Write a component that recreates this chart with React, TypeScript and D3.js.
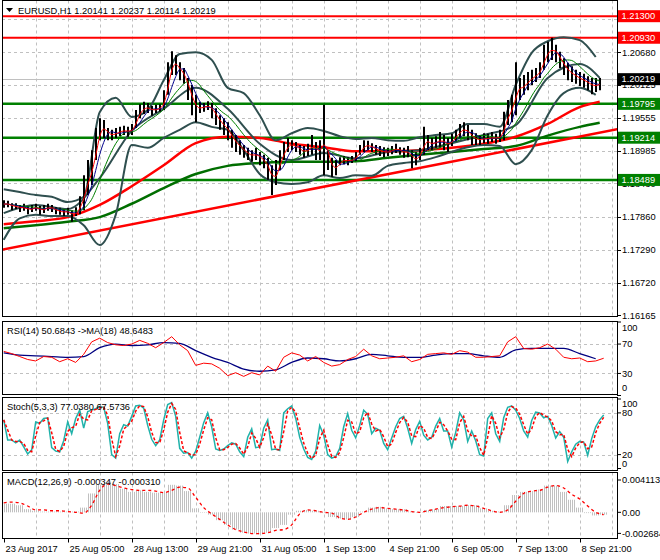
import React from "react";
import * as d3 from "d3";

// ---------- DATA (H1 EURUSD, sampled every 2 hours) ----------
const highs = [
  1.1814, 1.1813, 1.1809, 1.1809, 1.1806, 1.1808, 1.1804, 1.1806, 1.1808, 1.1804,
  1.1806, 1.1808, 1.1806, 1.1802, 1.1801, 1.1799, 1.1801, 1.1797, 1.1802, 1.1821,
  1.1857, 1.1883, 1.19, 1.1938, 1.1955, 1.1952, 1.1938, 1.1935, 1.1938, 1.194,
  1.1942, 1.194, 1.1945, 1.1969, 1.1979, 1.1983, 1.1981, 1.1976, 1.1978, 1.1979,
  1.2003, 1.2051, 1.207, 1.2063, 1.2051, 1.2041, 1.2024, 1.2012, 1.1995, 1.1983,
  1.1981, 1.1984, 1.1981, 1.1972, 1.196, 1.1955, 1.1948, 1.1935, 1.1926, 1.1917,
  1.1909, 1.1904, 1.19, 1.1904, 1.1897, 1.1892, 1.1887, 1.1874, 1.1883, 1.19,
  1.1914, 1.1921, 1.1917, 1.1914, 1.1909, 1.1907, 1.1911, 1.1926, 1.1914, 1.1917,
  1.1978, 1.19, 1.1887, 1.1883, 1.1888, 1.189, 1.1888, 1.189, 1.1897, 1.1909,
  1.1917, 1.1916, 1.1912, 1.1909, 1.1907, 1.1905, 1.1904, 1.1907, 1.1911, 1.1905,
  1.1904, 1.1907, 1.19, 1.1897, 1.1904, 1.194, 1.1926, 1.1921, 1.1924, 1.1931,
  1.1926, 1.1921, 1.1928, 1.1935, 1.1945, 1.1948, 1.1943, 1.1935, 1.1929, 1.1926,
  1.1929, 1.1928, 1.1931, 1.1928, 1.1935, 1.1966, 1.1986, 1.1995, 1.2051, 1.2024,
  1.2029, 1.2034, 1.2038, 1.2041, 1.2051, 1.2081, 1.2086, 1.2093, 1.2081, 1.2069,
  1.2058, 1.205, 1.2044, 1.2038, 1.2034, 1.2031, 1.2027, 1.2024, 1.2024, 1.2024,
];
const lows = [
  1.1801, 1.1802, 1.1797, 1.1799, 1.1794, 1.1796, 1.179, 1.1794, 1.1796, 1.1789,
  1.1792, 1.1796, 1.1794, 1.179, 1.1789, 1.1787, 1.1789, 1.1777, 1.1787, 1.179,
  1.1797, 1.1823, 1.184, 1.1883, 1.1917, 1.1921, 1.1917, 1.1917, 1.1921, 1.1924,
  1.1926, 1.1923, 1.1926, 1.1938, 1.1955, 1.1962, 1.1964, 1.1959, 1.1964, 1.1966,
  1.1969, 1.1995, 1.2029, 1.2029, 1.202, 1.2014, 1.1986, 1.196, 1.1948, 1.1964,
  1.1966, 1.1969, 1.1955, 1.1943, 1.1935, 1.1926, 1.1917, 1.1904, 1.1897, 1.1892,
  1.1887, 1.1883, 1.188, 1.1883, 1.1874, 1.1869, 1.1849, 1.1823, 1.184, 1.1866,
  1.1883, 1.1897, 1.19, 1.1897, 1.1892, 1.1887, 1.189, 1.1892, 1.1883, 1.1883,
  1.1857, 1.1866, 1.1854, 1.1857, 1.1874, 1.1876, 1.1874, 1.1878, 1.188, 1.1892,
  1.1897, 1.19, 1.1897, 1.1892, 1.189, 1.1888, 1.189, 1.1893, 1.1895, 1.1892,
  1.1887, 1.1888, 1.1869, 1.1874, 1.1883, 1.1892, 1.19, 1.19, 1.1904, 1.1904,
  1.19, 1.1897, 1.1907, 1.1914, 1.1921, 1.1924, 1.1917, 1.1909, 1.1909, 1.1909,
  1.1912, 1.1911, 1.1914, 1.1911, 1.1914, 1.1917, 1.1943, 1.1948, 1.196, 1.1986,
  1.1995, 1.2003, 1.2012, 1.2017, 1.2024, 1.2038, 1.2051, 1.2055, 1.2051, 1.2041,
  1.2029, 1.202, 1.2017, 1.2014, 1.201, 1.2007, 1.2003, 1.1996, 1.2, 1.2003,
];

// Long moving averages, one value every 8 bars (last one at the final bar)
const maBars = [0, 8, 16, 24, 32, 40, 48, 56, 64, 72, 80, 88, 96, 104, 112, 120, 128, 136, 144, 149];
const ma100 = [1.1773, 1.1778, 1.1785, 1.1806, 1.1838, 1.1874, 1.1912, 1.1923, 1.1921, 1.1911,
  1.1905, 1.1898, 1.1898, 1.19, 1.1904, 1.1911, 1.1923, 1.1945, 1.1974, 1.1983];
const ma200 = [1.1766, 1.1771, 1.1777, 1.1785, 1.1808, 1.1835, 1.1859, 1.1873, 1.1878, 1.188,
  1.188, 1.1881, 1.1887, 1.1892, 1.1897, 1.1902, 1.1907, 1.1925, 1.194, 1.1947];
const bbMiddle = [1.1792, 1.1806, 1.1799, 1.1852, 1.1933, 1.1971, 1.2007, 1.1971, 1.1911, 1.1883,
  1.1895, 1.1886, 1.1897, 1.19, 1.1912, 1.1926, 1.1943, 1.2024, 1.2048, 1.2024];

// Bollinger bands, one value every 4 bars
const bbUpper = [1.1833, 1.1828, 1.1823, 1.182, 1.1811, 1.182, 1.1965, 1.199, 1.1957, 1.1969,
  1.202, 1.2065, 1.2068, 1.2055, 1.2007, 1.1998, 1.196, 1.1917, 1.1929, 1.1938,
  1.1933, 1.1924, 1.1919, 1.1921, 1.1917, 1.1916, 1.1922, 1.1926, 1.1929, 1.1945,
  1.1945, 1.194, 1.2012, 1.2067, 1.2087, 1.2094, 1.2089, 1.206];
const bbLower = [1.1746, 1.1783, 1.1789, 1.1787, 1.1787, 1.1771, 1.1737, 1.1789, 1.1909, 1.1904,
  1.1921, 1.1935, 1.1948, 1.194, 1.1935, 1.19, 1.1859, 1.1845, 1.1842, 1.1845,
  1.1857, 1.1852, 1.1857, 1.1856, 1.1873, 1.1878, 1.1881, 1.1888, 1.1897, 1.1905,
  1.1909, 1.1907, 1.1876, 1.19, 1.196, 1.1998, 1.2007, 1.1995];

const trendBars = [-0.5, 153.4];
const trendPrices = [1.1729, 1.1936];

const resistanceLevels = [1.213, 1.2093];
const supportLevels = [1.19795, 1.19214, 1.18489];
const lastPrice = 1.20219;
const priceTicks = [1.2125, 1.2068, 1.20125, 1.19555, 1.18985, 1.1843, 1.1786, 1.1729, 1.1672, 1.16165];

const timeLabels = ["23 Aug 2017", "25 Aug 05:00", "28 Aug 13:00", "29 Aug 21:00", "31 Aug 05:00",
  "1 Sep 13:00", "4 Sep 21:00", "6 Sep 05:00", "7 Sep 13:00", "8 Sep 21:00"];

// RSI(14), one value every 2 bars; its MA(18) every 4 bars
const rsi = [60, 57, 53, 49, 47, 53, 52, 46, 50, 45, 56, 73, 78, 72, 69, 68, 70, 75, 71, 65,
  72, 80, 69, 61, 41, 44, 43, 37, 27, 31, 26, 31, 28, 40, 33, 52, 58, 55, 47, 53,
  45, 40, 42, 49, 53, 63, 54, 50, 51, 52, 54, 46, 49, 56, 57, 58, 56, 61, 59, 52,
  52, 53, 54, 73, 80, 64, 63, 65, 70, 63, 52, 50, 51, 46, 47, 50.7];
const rsiMa = [58, 55, 54, 53, 52, 53, 65, 70, 68, 69, 72, 71, 61, 52, 45, 36, 33, 35, 45, 51,
  50, 47, 50, 56, 54, 52, 52, 55, 57, 57, 54, 52, 62, 64, 64, 64, 57, 50];
const rsiTicks = [100, 70, 30, 0];

// Stochastic %K, one value per bar
const stochMain = [70, 41, 41, 37, 41, 31, 21, 27, 67, 65, 72, 73, 30, 25, 24, 40, 67, 50, 72, 84,
  58, 82, 84, 86, 89, 88, 65, 20, 15, 50, 63, 61, 75, 90, 91, 87, 62, 42, 33, 41,
  70, 92, 95, 75, 29, 22, 23, 15, 25, 45, 66, 80, 60, 28, 26, 28, 33, 37, 35, 24,
  17, 45, 57, 30, 31, 58, 70, 27, 28, 26, 80, 86, 90, 72, 45, 28, 16, 13, 25, 62,
  48, 20, 15, 17, 29, 60, 79, 55, 44, 62, 84, 78, 50, 58, 55, 36, 27, 44, 60, 72,
  75, 58, 36, 56, 68, 48, 41, 45, 61, 72, 54, 54, 31, 52, 80, 70, 39, 54, 40, 20,
  18, 72, 80, 50, 39, 73, 88, 90, 84, 72, 54, 45, 69, 81, 80, 73, 75, 62, 44, 53,
  45, 10, 24, 35, 39, 38, 19, 43, 60, 70, 77];
const stochTicks = [100, 80, 20, 0];

// MACD(12,26,9), one value every 2 bars
const macdHist = [0.0011, 0.0011, 0.0009, 0.0004, 0.0002, 0.0001, 0.0001, 0.0001, 0.0001, 0.0001,
  0.0006, 0.0024, 0.0035, 0.0039, 0.0036, 0.003, 0.0026, 0.0028, 0.0026, 0.0025,
  0.0025, 0.0035, 0.0034, 0.0027, 0.0005, 0.0, -0.0003, -0.001, -0.0016, -0.0022,
  -0.0026, -0.0027, -0.0028, -0.0026, -0.002, -0.0016, -0.0003, 0.0002, 0.0003, 0.0002,
  -0.0001, -0.0006, -0.0008, -0.0009, -0.0006, 0.0001, 0.0006, 0.0007, 0.0005, 0.0004,
  0.0004, 0.0001, 0.0, 0.0003, 0.0004, 0.0008, 0.0008, 0.0008, 0.0009, 0.0009,
  0.0005, 0.0002, 0.0001, 0.0009, 0.0022, 0.0026, 0.0027, 0.0029, 0.0034, 0.0034,
  0.0026, 0.0016, 0.0006, -0.0001, -0.0004, -0.0003];
const macdSignal = [0.0012, 0.0013, 0.0012, 0.0008, 0.0003, 0.0003, 0.0002, 0.0002, 0.0001, 0.0,
  -0.0001, 0.0009, 0.0028, 0.0036, 0.0034, 0.0031, 0.0029, 0.0028, 0.0028, 0.0027,
  0.0025, 0.0028, 0.0032, 0.0031, 0.0019, 0.0006, -0.0002, -0.0009, -0.0016, -0.0022,
  -0.0025, -0.0027, -0.0027, -0.0026, -0.0023, -0.0022, -0.0016, -0.0002, 0.0003, 0.0002,
  0.0, -0.0001, -0.0007, -0.0009, -0.0006, 0.0, 0.0004, 0.0006, 0.0005, 0.0004,
  0.0003, 0.0001, 0.0, 0.0002, 0.0004, 0.0006, 0.0007, 0.0008, 0.0009, 0.0008,
  0.0005, 0.0002, 0.0, 0.0003, 0.0014, 0.0024, 0.0027, 0.0028, 0.0032, 0.0034,
  0.0031, 0.0023, 0.0017, 0.0008, 0.0, -0.0003];
const macdTicks = [0.004113, 0, -0.002684];

// ---------- LAYOUT ----------
const FONT = "'Liberation Sans', Arial, sans-serif";
const FS = 9.3;
const PL = 2;
const PR = 617;
const MAIN = { top: 0.5, bottom: 316.5 };
const RSI_P = { top: 321.5, bottom: 394.5 };
const STO_P = { top: 397.5, bottom: 470.5 };
const MACD_P = { top: 472.5, bottom: 538.5 };

export default function App() {
  const x = d3.scaleLinear().domain([0, 150]).range([3.7, 603.7]);
  const yP = d3.scaleLinear().domain([1.16165, 1.21578]).range([315.3, 0]);
  const yR = d3.scaleLinear().domain([0, 100]).range([395.5, 322]);
  const yS = d3.scaleLinear().domain([0, 100]).range([468.5, 399]);
  const yM = d3.scaleLinear().domain([-0.002684, 0.004113]).range([533.4, 480]);

  const step = (n: number, s: number) => d3.range(n).map((i) => i * s);
  const mids = highs.map((h, i) => (h + lows[i]) / 2);
  const sma = (arr: number[], n: number) =>
    arr.map((_, i) => d3.mean(arr.slice(Math.max(0, i - n + 1), i + 1)) as number);
  const maFast = sma(mids, 2);
  const maMid = sma(mids, 4);
  const maSlow = sma(mids, 8);
  const stochSignal = sma(stochMain, 2);

  const allBars = step(highs.length, 1);
  const bbBars = step(bbUpper.length, 4);
  const rsiBars = step(rsi.length, 2);
  const rsiMaBars = step(rsiMa.length, 4);
  const stochBars = step(stochMain.length, 1);
  const macdBars = step(macdHist.length, 2);

  const mk = (bars: number[], vals: number[], ys: (v: number) => number, curve: any = d3.curveMonotoneX) =>
    d3
      .line<number>()
      .x((_, i) => x(bars[i]))
      .y((v) => ys(v))
      .curve(curve)(vals) || "";

  const vGrid = d3.range(1, 20).map((k) => x(8 * k));
  const gridStyle = { stroke: "#c0c0c0", strokeWidth: 1, strokeDasharray: "3,3" } as const;

  const panelFrame = (p: { top: number; bottom: number }, key: string) => (
    <rect key={key} x={PL + 0.5} y={p.top} width={PR - PL} height={p.bottom - p.top} fill="none" stroke="#000" strokeWidth={1} />
  );

  const vGridLines = (p: { top: number; bottom: number }, key: string) => (
    <g key={key}>
      {vGrid.map((gx, i) => (
        <line key={i} x1={Math.round(gx) + 0.5} x2={Math.round(gx) + 0.5} y1={p.top} y2={p.bottom} {...gridStyle} />
      ))}
    </g>
  );

  const clampLabel = (y: number, p: { top: number; bottom: number }) => Math.min(Math.max(y, p.top + 6.5), p.bottom - 6.5);

  const levelBox = (v: number, fill: string, key: string) => {
    const yy = yP(v);
    return (
      <g key={key}>
        <rect x={618} y={yy - 6} width={42} height={12} fill={fill} />
        <text x={621.5} y={yy + 3.3} fill="#fff" fontSize={FS} fontFamily={FONT}>
          {v.toFixed(5)}
        </text>
      </g>
    );
  };

  return (
    <svg width={660} height={560} style={{ position: "absolute", left: 0, top: 0, background: "#fff" }} xmlns="http://www.w3.org/2000/svg">
      <defs>
        <clipPath id="cMain"><rect x={PL + 1} y={1} width={PR - PL - 1} height={MAIN.bottom - 1.5} /></clipPath>
        <clipPath id="cRsi"><rect x={PL + 1} y={RSI_P.top + 0.5} width={PR - PL - 1} height={RSI_P.bottom - RSI_P.top - 1} /></clipPath>
        <clipPath id="cSto"><rect x={PL + 1} y={STO_P.top + 0.5} width={PR - PL - 1} height={STO_P.bottom - STO_P.top - 1} /></clipPath>
        <clipPath id="cMacd"><rect x={PL + 1} y={MACD_P.top + 0.5} width={PR - PL - 1} height={MACD_P.bottom - MACD_P.top - 1} /></clipPath>
        <pattern id="hatch" x={0} y={0} width={2} height={4} patternUnits="userSpaceOnUse">
          <rect x={0} y={0} width={1} height={4} fill="#c0c0c0" />
        </pattern>
      </defs>
      <rect x={0} y={0} width={660} height={560} fill="#fff" />

      {/* ---------- MAIN PANEL ---------- */}
      <g clipPath="url(#cMain)">
        {vGridLines(MAIN, "vgm")}
        {priceTicks.slice(0, -1).map((t, i) => (
          <line key={i} x1={PL} x2={PR} y1={Math.round(yP(t)) + 0.5} y2={Math.round(yP(t)) + 0.5} {...gridStyle} />
        ))}
        <line x1={PL} x2={PR} y1={Math.round(yP(lastPrice)) + 0.5} y2={Math.round(yP(lastPrice)) + 0.5} stroke="#c0c0c0" strokeWidth={1} />
        {resistanceLevels.map((v, i) => (
          <line key={"r" + i} x1={PL} x2={PR} y1={yP(v)} y2={yP(v)} stroke="#ff0000" strokeWidth={2} />
        ))}
        {supportLevels.map((v, i) => (
          <line key={"s" + i} x1={PL} x2={PR} y1={yP(v)} y2={yP(v)} stroke="#008000" strokeWidth={2.5} />
        ))}
        <path d={mk(trendBars, trendPrices, yP, d3.curveLinear)} fill="none" stroke="#ff0000" strokeWidth={2.5} />
        <path d={mk(maBars, ma200, yP)} fill="none" stroke="#006e00" strokeWidth={2.5} />
        <path d={mk(maBars, ma100, yP)} fill="none" stroke="#ff0000" strokeWidth={2.5} />
        <path d={mk(bbBars, bbUpper, yP)} fill="none" stroke="#2f4f4f" strokeWidth={2} />
        <path d={mk(bbBars, bbLower, yP)} fill="none" stroke="#2f4f4f" strokeWidth={2} />
        <path d={mk(maBars, bbMiddle, yP)} fill="none" stroke="#2f4f4f" strokeWidth={2} />
        {allBars.map((j) => (
          <line
            key={j}
            x1={Math.round(x(j))}
            x2={Math.round(x(j))}
            y1={yP(highs[j])}
            y2={yP(lows[j])}
            stroke="#000"
            strokeWidth={2}
          />
        ))}
        <path d={mk(allBars, maSlow, yP)} fill="none" stroke="#008000" strokeWidth={1} />
        <path d={mk(allBars, maMid, yP)} fill="none" stroke="#00008b" strokeWidth={1} />
        <path d={mk(allBars, maFast, yP)} fill="none" stroke="#ff0000" strokeWidth={1} />
      </g>
      {panelFrame(MAIN, "fm")}
      <path d="M6,8 L13,8 L9.5,12 Z" fill="#000" />
      <text x={18} y={14} fontSize={FS} fontFamily={FONT} fill="#000">
        {"EURUSD,H1  1.20141 1.20237 1.20114 1.20219"}
      </text>

      {/* price axis */}
      {priceTicks.map((t, i) => (
        <g key={i}>
          <line x1={PR} x2={PR + 4} y1={Math.round(yP(t)) + 0.5} y2={Math.round(yP(t)) + 0.5} stroke="#000" />
          <text x={622} y={yP(t) + 3.3} fontSize={FS} fontFamily={FONT} fill="#000">
            {t.toFixed(5)}
          </text>
        </g>
      ))}
      {resistanceLevels.map((v, i) => levelBox(v, "#ff0000", "rb" + i))}
      {supportLevels.map((v, i) => levelBox(v, "#008000", "sb" + i))}
      {levelBox(lastPrice, "#000000", "lp")}

      {/* ---------- RSI PANEL ---------- */}
      <g clipPath="url(#cRsi)">
        {vGridLines(RSI_P, "vgr")}
        {[70, 30].map((t) => (
          <line key={t} x1={PL} x2={PR} y1={Math.round(yR(t)) + 0.5} y2={Math.round(yR(t)) + 0.5} {...gridStyle} />
        ))}
        <path d={mk(rsiMaBars, rsiMa, yR)} fill="none" stroke="#000080" strokeWidth={1.3} />
        <path d={mk(rsiBars, rsi, yR, d3.curveLinear)} fill="none" stroke="#ff0000" strokeWidth={1} />
      </g>
      {panelFrame(RSI_P, "fr")}
      <text x={7} y={334} fontSize={FS} fontFamily={FONT} fill="#000">
        {"RSI(14) 50.6843  ->MA(18) 48.6483"}
      </text>
      {rsiTicks.map((t) => (
        <g key={t}>
          <line x1={PR} x2={PR + 4} y1={yR(t)} y2={yR(t)} stroke="#000" />
          <text x={622} y={clampLabel(yR(t), RSI_P) + 3.3} fontSize={FS} fontFamily={FONT} fill="#000">
            {t}
          </text>
        </g>
      ))}

      {/* ---------- STOCH PANEL ---------- */}
      <g clipPath="url(#cSto)">
        {vGridLines(STO_P, "vgs")}
        {[80, 20].map((t) => (
          <line key={t} x1={PL} x2={PR} y1={Math.round(yS(t)) + 0.5} y2={Math.round(yS(t)) + 0.5} {...gridStyle} />
        ))}
        <path d={mk(stochBars, stochMain, yS, d3.curveLinear)} fill="none" stroke="#20b2aa" strokeWidth={1.5} />
        <path d={mk(stochBars, stochSignal, yS, d3.curveLinear)} fill="none" stroke="#ff0000" strokeWidth={1.5} strokeDasharray="3,2" />
      </g>
      {panelFrame(STO_P, "fs")}
      <text x={7} y={410} fontSize={FS} fontFamily={FONT} fill="#000">
        {"Stoch(5,3,3) 77.0380 67.5736"}
      </text>
      {stochTicks.map((t) => (
        <g key={t}>
          <line x1={PR} x2={PR + 4} y1={yS(t)} y2={yS(t)} stroke="#000" />
          <text x={622} y={clampLabel(yS(t), STO_P) + 3.3} fontSize={FS} fontFamily={FONT} fill="#000">
            {t}
          </text>
        </g>
      ))}

      {/* ---------- MACD PANEL ---------- */}
      <g clipPath="url(#cMacd)">
        {vGridLines(MACD_P, "vgd")}
        {macdBars.map((j, i) => {
          const v = macdHist[i];
          const y0 = yM(0);
          const y1 = yM(v);
          return (
            <rect key={i} x={x(j) - 4} y={Math.min(y0, y1)} width={8} height={Math.max(0.5, Math.abs(y1 - y0))} fill="url(#hatch)" />
          );
        })}
        <path d={mk(macdBars, macdSignal, yM)} fill="none" stroke="#ff0000" strokeWidth={1.3} strokeDasharray="3,3" />
      </g>
      {panelFrame(MACD_P, "fd")}
      <text x={7} y={484.5} fontSize={FS} fontFamily={FONT} fill="#000">
        {"MACD(12,26,9) -0.000347 -0.000310"}
      </text>
      {macdTicks.map((t) => (
        <g key={t}>
          <line x1={PR} x2={PR + 4} y1={yM(t)} y2={yM(t)} stroke="#000" />
          <text x={622} y={yM(t) + 3.3} fontSize={FS} fontFamily={FONT} fill="#000">
            {t === 0 ? "0.00" : t.toFixed(6)}
          </text>
        </g>
      ))}

      {/* ---------- TIME AXIS ---------- */}
      {timeLabels.map((lab, k) => {
        const tx = Math.round(x(16 * k)) + 0.5;
        return (
          <g key={lab}>
            <line x1={tx} x2={tx} y1={MACD_P.bottom} y2={MACD_P.bottom + 4} stroke="#000" />
            <text x={tx + 1} y={552} fontSize={FS} fontFamily={FONT} fill="#000">
              {lab}
            </text>
          </g>
        );
      })}
    </svg>
  );
}
